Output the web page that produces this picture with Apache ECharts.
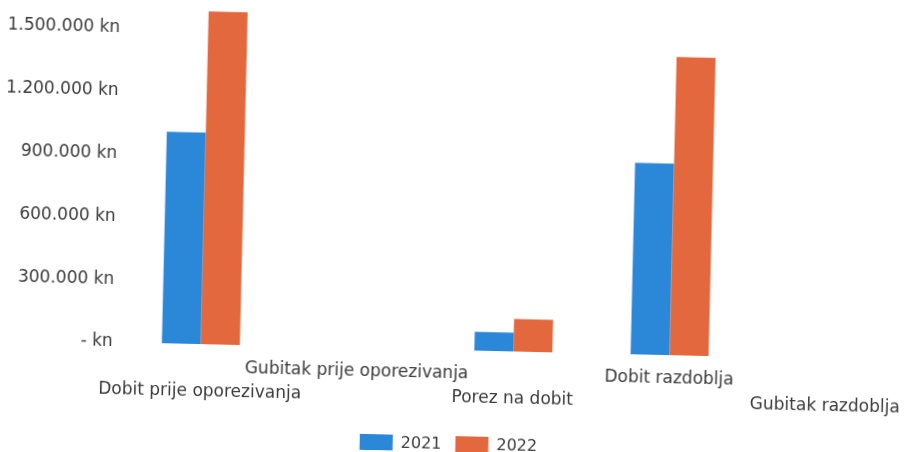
<!DOCTYPE html>
<html>
<head>
<meta charset="utf-8">
<script src="https://cdn.jsdelivr.net/npm/echarts@6/dist/echarts.min.js"></script>
<style>
  html, body { margin: 0; padding: 0; background: #fff; overflow: hidden; }
  /* scan is slightly tilted clockwise */
  #chart { width: 907px; height: 452px; transform: rotate(1.35deg); transform-origin: 453px 226px; }
</style>
</head>
<body>
<div id="chart"></div>
<script>
const categories = ['Dobit prije oporezivanja', 'Gubitak prije oporezivanja', 'Porez na dobit', 'Dobit razdoblja', 'Gubitak razdoblja']
const values2021 = [1010000, 0, 90000, 915000, 0]
const values2022 = [1590000, 0, 155000, 1425000, 0]
const yTickLabels = ['- kn', '300.000 kn', '600.000 kn', '900.000 kn', '1.200.000 kn', '1.500.000 kn']
const yStep = 300000

const font = 'DejaVu Sans'
const textColor = '#3a3a3a'

const myChart = echarts.init(document.getElementById('chart'))
myChart.setOption({
  animation: false,
  grid: { left: 124, width: 788, top: 36, bottom: 102, containLabel: false },
  legend: {
    data: ['2021', '2022'],
    left: 'center',
    top: 431,
    itemWidth: 33,
    itemHeight: 18,
    itemGap: 14,
    icon: 'rect',
    textStyle: { fontFamily: font, fontSize: 16, color: textColor, padding: [0, 0, 0, 3] }
  },
  xAxis: {
    type: 'category',
    data: categories,
    axisLine: { show: false },
    axisTick: { show: false },
    axisLabel: {
      interval: 0,
      margin: 12,
      fontFamily: font,
      fontSize: 17,
      lineHeight: 24,
      color: textColor,
      // Excel staggers long labels on two rows
      formatter: (val, i) => i % 2 === 0 ? '\n' + val : val
    }
  },
  yAxis: {
    type: 'value',
    min: 0,
    max: 1500000,
    interval: yStep,
    splitLine: { show: false },
    axisLine: { show: false },
    axisTick: { show: false },
    axisLabel: {
      margin: 10,
      fontFamily: font,
      fontSize: 17,
      color: textColor,
      formatter: (v) => yTickLabels[Math.round(v / yStep)]
    }
  },
  series: [
    {
      name: '2021',
      type: 'bar',
      data: values2021,
      barWidth: 39,
      barGap: '0%',
      clip: false,
      itemStyle: { color: '#2b87d8' }
    },
    {
      name: '2022',
      type: 'bar',
      data: values2022,
      barWidth: 39,
      barGap: '0%',
      clip: false,
      itemStyle: { color: '#e3683d' }
    }
  ]
})
</script>
</body>
</html>
